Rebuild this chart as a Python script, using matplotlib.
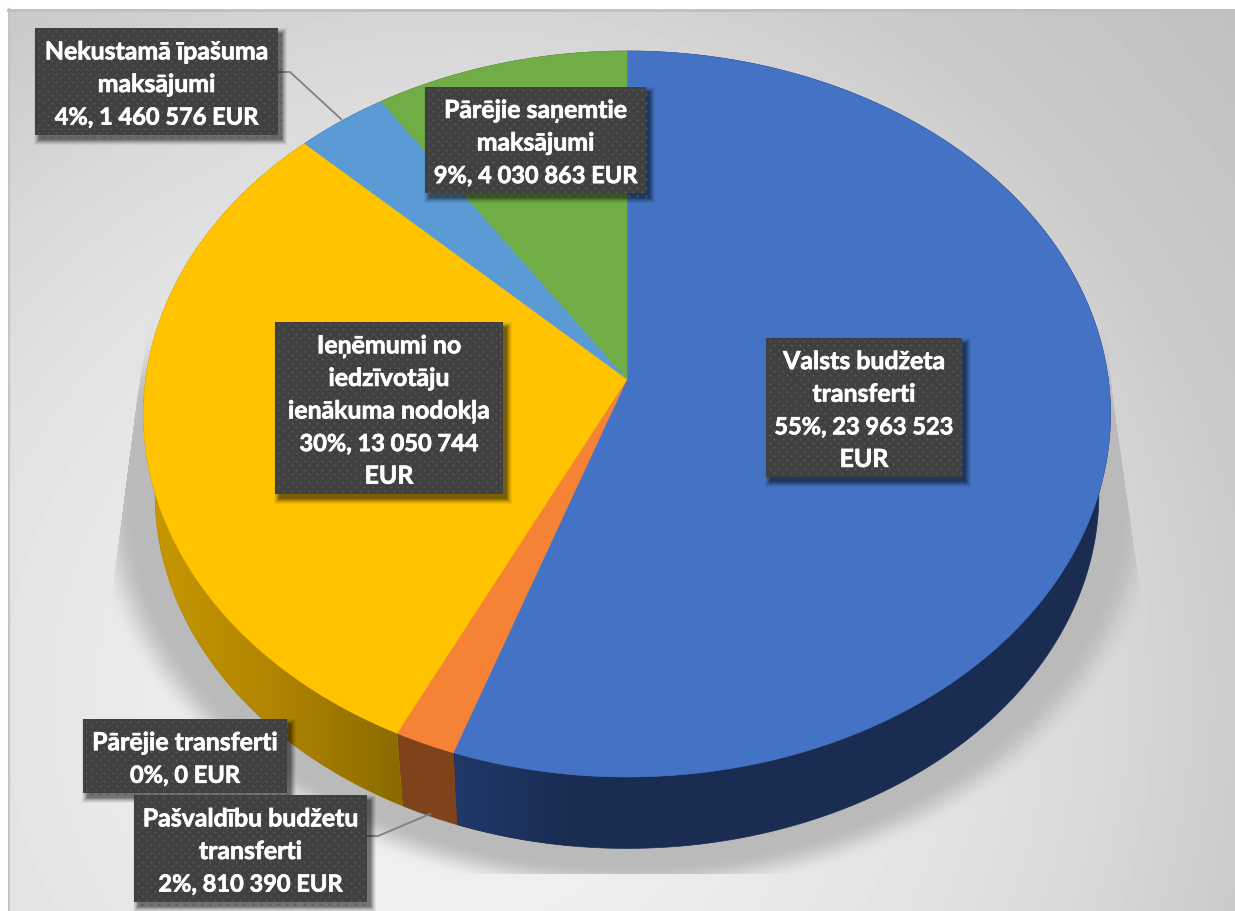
import numpy as np
import matplotlib
matplotlib.use("Agg")
import matplotlib.pyplot as plt
import matplotlib.patheffects as pe
from matplotlib.colors import LinearSegmentedColormap
from matplotlib.patches import Polygon, Rectangle

plt.rcParams["font.family"] = ["Lato", "Noto Sans", "DejaVu Sans"]

# clockwise from 12 o'clock
categories = ["Valsts budžeta transferti", "Pašvaldību budžetu transferti", "Pārējie transferti",
              "Ieņēmumi no iedzīvotāju ienākuma nodokļa", "Nekustamā īpašuma maksājumi",
              "Pārējie saņemtie maksājumi"]
values = [23963523, 810390, 0, 13050744, 1460576, 4030863]
top_colors = ["#4472C4", "#F58235", "#A5A5A5", "#FFC300", "#5B9BD5", "#70AD47"]
side_colors = ["#1A2C52", "#7F431B", "#555555", "#A67D00", "#2F5B85", "#3E6327"]
labels = ["Valsts budžeta\ntransferti\n55%, 23 963 523\nEUR",
          "Pašvaldību budžetu\ntransferti\n2%, 810 390 EUR",
          "Pārējie transferti\n0%, 0 EUR",
          "Ieņēmumi no\niedzīvotāju\nienākuma nodokļa\n30%, 13 050 744\nEUR",
          "Nekustamā īpašuma\nmaksājumi\n4%, 1 460 576 EUR",
          "Pārējie saņemtie\nmaksājumi\n9%, 4 030 863 EUR"]
# label boxes in pixels: left, top, right, bottom
boxes = [(766, 339, 962, 478), (134, 796, 367, 903), (83, 720, 287, 794),
         (275, 323, 503, 495), (35, 29, 278, 136), (425, 88, 646, 194)]
# side gradients: category -> (colours, x range)
side_gradients = {"Ieņēmumi no iedzīvotāju ienākuma nodokļa": (["#C99800", "#B08500", "#8A6A00"], (143, 403)),
                  "Valsts budžeta transferti": (["#20396A", "#1A2C52"], (455, 570))}

W, H = 1235, 912
CX, CY = 627, 380
A, B, K = 481.2, 359.6, 0.0964  # perspective of the pie disc
DEPTH, SHRINK = 81, 0.976
LINE_STEP = 32.6


def project(t, scale=1.0, dy=0):
    # t is clockwise from the top
    u, v = np.sin(t), np.cos(t)
    d = 1 + K * v
    return CX + scale * A * u / d, CY + dy - scale * B * v / d


fig = plt.figure(figsize=(W / 100, H / 100), dpi=100, facecolor="white")
ax = fig.add_axes([0, 0, 1, 1])
ax.set_xlim(0, W)
ax.set_ylim(H, 0)
ax.axis("off")

# background with the soft floor shadow
yy, xx = np.mgrid[10:H, 8:W] + 0.5
dist = np.hypot(xx - 460, yy - 700)
bg = np.interp(dist, [0, 236, 502, 653, 800, 1030], [240, 238, 226, 216, 202, 192])
rr = np.hypot((xx - CX) / (483.5 * SHRINK), (yy - 495) / 354)
fade = np.clip(1 - (rr - 1.05) / 0.09, 0, 1)
fade = fade * fade * (3 - 2 * fade) * np.clip((yy - 320) / 70, 0, 1)
left_edge = np.interp(yy, [320, 340, 400, 610], [152, 147, 137, 110])
right_edge = np.interp(yy, [320, 340, 400, 610], [1102, 1107, 1113, 1143])
mask = (xx > left_edge) & (xx < right_edge) & (yy < 875)
bg = np.where(mask, bg - (bg - 186) * fade, bg)
ax.imshow(bg, cmap="gray", vmin=0, vmax=255, extent=(8, W, H, 10), aspect="auto",
          interpolation="bilinear", zorder=0)
ax.plot([8.5, 8.5], [10, H], color="#C4C4C4", lw=1.5, zorder=1)
ax.plot([8, W], [11, 11], color="#C0C0C0", lw=2, zorder=1)

fractions = np.array(values) / sum(values)
edges = np.concatenate([[0], np.cumsum(fractions)]) * 2 * np.pi

# sides first, the top faces cover whatever is hidden
for i in range(len(values)):
    if values[i] == 0:
        continue
    t = np.linspace(edges[i], edges[i + 1], 200)
    xt, yt = project(t)
    xb, yb = project(t, SHRINK, DEPTH)
    pts = np.r_[np.c_[xt, yt], np.c_[xb, yb][::-1]]
    side = Polygon(pts, closed=True, fc=side_colors[i], ec=side_colors[i], lw=0.5, zorder=2)
    ax.add_patch(side)
    if categories[i] in side_gradients:
        grad, (gx0, gx1) = side_gradients[categories[i]]
        cmap = LinearSegmentedColormap.from_list("side", grad)
        im = ax.imshow(np.linspace(0, 1, 256)[None, :], cmap=cmap, extent=(gx0, gx1, 850, 400),
                       aspect="auto", zorder=2.1)
        im.set_clip_path(side)

for i in range(len(values)):
    if values[i] == 0:
        continue
    t = np.linspace(edges[i], edges[i + 1], 300)
    xt, yt = project(t)
    pts = np.r_[[[CX, CY]], np.c_[xt, yt]]
    ax.add_patch(Polygon(pts, closed=True, fc=top_colors[i], ec=top_colors[i], lw=0.4, zorder=3))

# leader lines
ax.plot([278, 290, 341], [73, 73, 120], color="#808080", lw=1.3, zorder=4)
ax.plot([367, 378, 430], [837, 837, 815], color="#808080", lw=1.3, zorder=4)

# data labels
for (x0, y0, x1, y1), text in zip(boxes, labels):
    for grow, alpha in [(5, 0.05), (4, 0.07), (3, 0.09), (2, 0.12), (1, 0.14), (0, 0.18)]:
        ax.add_patch(Rectangle((x0 + 4 - grow, y0 + 5 - grow), x1 - x0 + 2 * grow, y1 - y0 + 2 * grow,
                               fc="black", ec="none", alpha=alpha, zorder=5))
    ax.add_patch(Rectangle((x0, y0), x1 - x0, y1 - y0, fc="#404040", ec="none", zorder=6))
    dx, dy = np.meshgrid(np.arange(x0 + 4, x1, 8.5), np.arange(y0 + 3, y1, 8.5))
    ax.scatter(np.r_[dx.ravel(), dx.ravel() + 4.25], np.r_[dy.ravel(), dy.ravel() + 4.25],
               s=2.2, c="#585858", lw=0, zorder=7,
               clip_path=Rectangle((x0, y0), x1 - x0, y1 - y0, transform=ax.transData))
    lines = text.split("\n")
    for n, line in enumerate(lines):
        # Lato digits run wide, so the number lines get a smaller size
        size = 17 if any(c.isdigit() for c in line) else 17.9
        y = (y0 + y1) / 2 + 10.5 + (n - (len(lines) - 1) / 2) * LINE_STEP
        ax.text((x0 + x1) / 2, y, line, color="white", fontsize=size, fontweight="bold",
                ha="center", va="baseline", zorder=8,
                path_effects=[pe.withStroke(linewidth=0.5, foreground="white")])

fig.savefig("out.png", dpi=100)
